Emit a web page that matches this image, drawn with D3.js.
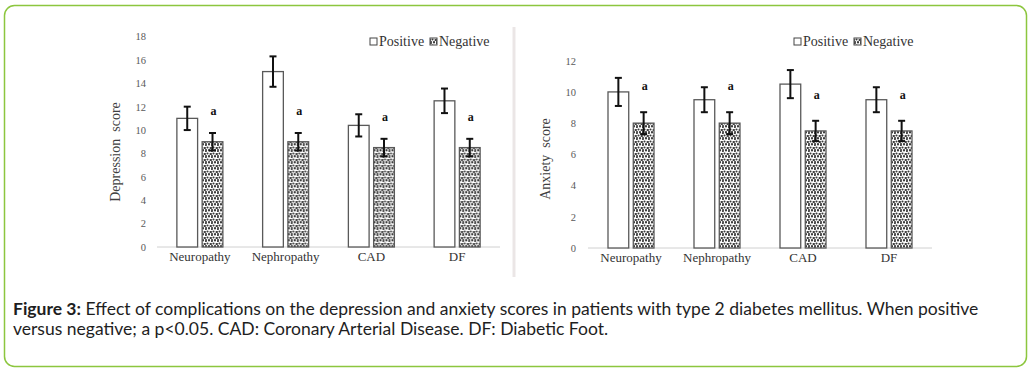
<!DOCTYPE html>
<html>
<head>
<meta charset="utf-8">
<script src="https://cdn.jsdelivr.net/npm/d3@7"></script>
<style>
  body { margin: 0; background: #fff; }
  svg { display: block; }
</style>
</head>
<body>
<svg id="plot"></svg>
<script>
// data
const categories = ["Neuropathy", "Nephropathy", "CAD", "DF"];
const seriesNames = ["Positive", "Negative"];

const depPositive = [11, 15, 10.4, 12.5];
const depPositiveErr = [1, 1.3, 0.95, 1.05];
const depNegative = [9, 9, 8.5, 8.5];
const depNegativeErr = [0.75, 0.75, 0.75, 0.75];
const depTicks = [0, 2, 4, 6, 8, 10, 12, 14, 16, 18];

const anxPositive = [10, 9.5, 10.5, 9.5];
const anxPositiveErr = [0.9, 0.8, 0.9, 0.8];
const anxNegative = [8, 8, 7.5, 7.5];
const anxNegativeErr = [0.7, 0.7, 0.65, 0.65];
const anxTicks = [0, 2, 4, 6, 8, 10, 12];

const captionBold = "Figure 3:";
const captionLine1 = " Effect of complications on the depression and anxiety scores in patients with type 2 diabetes mellitus. When positive";
const captionLine2 = "versus negative; a p<0.05. CAD: Coronary Arterial Disease. DF: Diabetic Foot.";

let width = 1031, height = 373;
let svg = d3.select('#plot')
  .attr('width', width)
  .attr('height', height)
  .style('background', 'white');

// stipple texture for the Negative bars
let defs = svg.append('defs');
let pat = defs.append('pattern')
  .attr('id', 'stipple')
  .attr('patternUnits', 'userSpaceOnUse')
  .attr('width', 6).attr('height', 6);
pat.append('rect').attr('width', 6).attr('height', 6).attr('fill', '#fff');
[[1, 1], [4, 0.5], [2.5, 3.5], [5.5, 4], [0, 4], [4, 6], [1, 6]].forEach(p => {
  pat.append('circle').attr('cx', p[0]).attr('cy', p[1]).attr('r', 1.05)
    .attr('fill', '#3a3a3a');
});

// green frame
svg.append('rect')
  .attr('x', 4.5).attr('y', 5.5)
  .attr('width', 1022).attr('height', 361)
  .attr('rx', 10)
  .attr('fill', 'none')
  .attr('stroke', '#8cc63e')
  .attr('stroke-width', 1.5);

// divider between the two panels
svg.append('line')
  .attr('x1', 514).attr('x2', 514)
  .attr('y1', 27).attr('y2', 277)
  .attr('stroke', '#ebe6e6')
  .attr('stroke-width', 3);

function drawChart(cfg) {
  let g = svg.append('g');

  let x0 = d3.scaleBand().domain(categories).range(cfg.xRange);
  let bw = x0.bandwidth();
  let x1 = d3.scaleBand().domain(seriesNames)
    .range([bw / 2 - 23, bw / 2 + 23])
    .paddingInner(0.18);

  let y = d3.scaleLinear().domain([0, cfg.yMax]).range(cfg.yRange);

  // y axis labels only
  let yAxis = g.append('g')
    .attr('transform', `translate(${cfg.xRange[0]}, 0)`)
    .call(d3.axisLeft(y).tickValues(cfg.ticks).tickSize(0).tickPadding(cfg.tickPad));
  yAxis.select('.domain').remove();
  yAxis.selectAll('text')
    .style('font-family', '"Liberation Serif", serif')
    .style('font-size', '10.5px')
    .attr('fill', '#595959');

  // baseline
  g.append('line')
    .attr('x1', cfg.xRange[0]).attr('x2', cfg.xRange[1])
    .attr('y1', y(0)).attr('y2', y(0))
    .attr('stroke', '#d0d0d0').attr('stroke-width', 1);

  // category labels
  let xAxis = g.append('g')
    .attr('transform', `translate(0, ${y(0)})`)
    .call(d3.axisBottom(x0).tickSize(0).tickPadding(5));
  xAxis.select('.domain').remove();
  xAxis.selectAll('text')
    .style('font-family', '"Liberation Serif", serif')
    .style('font-size', '13px')
    .attr('fill', '#333');

  let rows = categories.map((c, i) => ({
    cat: c,
    vals: [
      { s: "Positive", v: cfg.pos[i], e: cfg.posErr[i] },
      { s: "Negative", v: cfg.neg[i], e: cfg.negErr[i] }
    ]
  }));

  let groups = g.selectAll('.grp')
    .data(rows)
    .enter()
    .append('g')
    .attr('transform', d => `translate(${x0(d.cat)}, 0)`);

  groups.selectAll('rect')
    .data(d => d.vals)
    .enter()
    .append('rect')
    .attr('x', d => x1(d.s))
    .attr('y', d => y(d.v))
    .attr('width', x1.bandwidth())
    .attr('height', d => y(0) - y(d.v))
    .attr('fill', d => d.s === "Positive" ? '#fff' : 'url(#stipple)')
    .attr('stroke', '#595959')
    .attr('stroke-width', 1.3);

  // error bars
  let err = groups.selectAll('.err')
    .data(d => d.vals)
    .enter()
    .append('g');
  let cx = d => x1(d.s) + x1.bandwidth() / 2;
  err.append('line')
    .attr('x1', cx).attr('x2', cx)
    .attr('y1', d => y(d.v + d.e)).attr('y2', d => y(d.v - d.e))
    .attr('stroke', '#111').attr('stroke-width', 2);
  [1, -1].forEach(sg => {
    err.append('line')
      .attr('x1', d => cx(d) - 3.5).attr('x2', d => cx(d) + 3.5)
      .attr('y1', d => y(d.v + sg * d.e)).attr('y2', d => y(d.v + sg * d.e))
      .attr('stroke', '#111').attr('stroke-width', 2);
  });

  // significance letters
  groups.append('text')
    .attr('x', d => x1("Negative") + x1.bandwidth() / 2 + 1)
    .attr('y', d => y(d.vals[1].v + d.vals[1].e) - cfg.aOffset)
    .attr('text-anchor', 'middle')
    .style('font-family', '"Liberation Serif", serif')
    .style('font-size', '12px')
    .style('font-weight', 'bold')
    .attr('fill', '#111')
    .text('a');

  // y title
  g.append('text')
    .attr('transform', `translate(${cfg.titleX}, ${cfg.titleY}) rotate(-90)`)
    .attr('text-anchor', 'middle')
    .style('font-family', '"Liberation Serif", serif')
    .style('font-size', '14px')
    .style('white-space', 'pre')
    .attr('fill', '#404040')
    .text(cfg.title);

  // legend
  let lg = g.append('g').attr('transform', `translate(${cfg.legendX}, ${cfg.legendY})`);
  lg.append('rect').attr('x', 0).attr('y', -4).attr('width', 7).attr('height', 7)
    .attr('fill', '#fff').attr('stroke', '#444').attr('stroke-width', 1);
  lg.append('text').attr('x', 9).attr('y', 4)
    .style('font-family', '"Liberation Serif", serif').style('font-size', '14px')
    .attr('fill', '#333').text(seriesNames[0]);
  lg.append('rect').attr('x', 60).attr('y', -4).attr('width', 7).attr('height', 7)
    .attr('fill', 'url(#stipple)').attr('stroke', '#444').attr('stroke-width', 1);
  lg.append('text').attr('x', 69).attr('y', 4)
    .style('font-family', '"Liberation Serif", serif').style('font-size', '14px')
    .attr('fill', '#333').text(seriesNames[1]);
}

drawChart({
  xRange: [157, 500], yRange: [247, 36.5], yMax: 18, ticks: depTicks, tickPad: 11,
  pos: depPositive, posErr: depPositiveErr, neg: depNegative, negErr: depNegativeErr,
  aOffset: 18, title: "Depression  score", titleX: 120, titleY: 152,
  legendX: 370, legendY: 42
});

drawChart({
  xRange: [588, 932], yRange: [248, 60.7], yMax: 12, ticks: anxTicks, tickPad: 12,
  pos: anxPositive, posErr: anxPositiveErr, neg: anxNegative, negErr: anxNegativeErr,
  aOffset: 22, title: "Anxiety  score", titleX: 550, titleY: 159,
  legendX: 794, legendY: 42
});

// caption
let cap = svg.append('g').style('font-family', 'Lato, sans-serif').attr('fill', '#1e1e1e');
let t1 = cap.append('text').attr('x', 13).attr('y', 315);
t1.append('tspan').style('font-weight', 'bold').text(captionBold);
t1.append('tspan').text(captionLine1);
let t2 = cap.append('text').attr('x', 13).attr('y', 335).text(captionLine2);

// fit the first line to the width seen in the figure
cap.style('font-size', '14px');
let w = t1.node().getComputedTextLength();
let fs = 14 * 966 / w;
cap.style('font-size', fs + 'px');
</script>
</body>
</html>
